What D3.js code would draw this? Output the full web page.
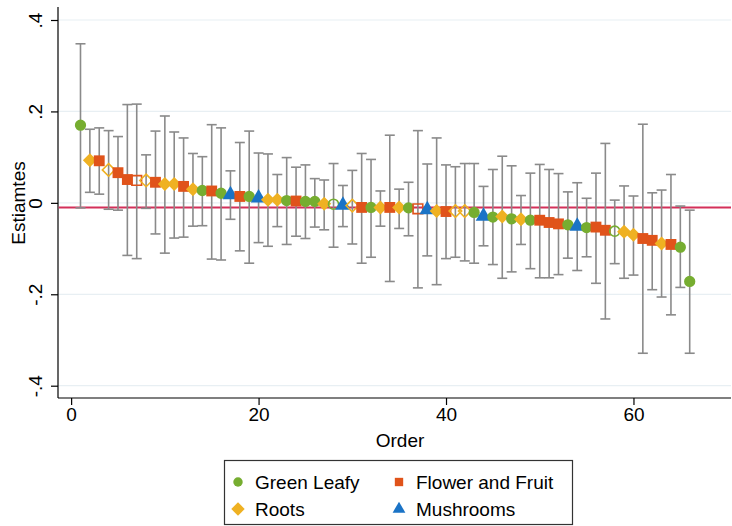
<!DOCTYPE html>
<html><head><meta charset="utf-8">
<script src="https://cdn.jsdelivr.net/npm/d3@7"></script>
<style>body{margin:0;background:#fff}svg{display:block;font-family:"Liberation Sans",Arial,Helvetica,sans-serif}</style>
</head><body><svg id="c" width="732" height="526"></svg>
<script>
// Order of each estimate (1..66)
const order = d3.range(1, 67);
// Category of each estimate: G = Green Leafy, F = Flower and Fruit, R = Roots, M = Mushrooms
const category = ["G","R","F","R","F","F","F","R","F","R","R","F","R","G","F","G","M","F","G","M",
  "R","R","G","F","G","G","R","G","M","R","F","G","R","F","R","G","F","M","R","F",
  "R","R","G","M","G","R","G","R","G","F","F","F","G","M","G","F","F","G","R","R",
  "F","F","R","F","G","G"];
// Hollow (open) marker flag
const hollow = [0,0,0,1,0,0,1,1,0,0,0,0,0,0,0,0,0,0,0,0,
  0,0,0,0,0,0,0,1,0,1,0,0,0,0,0,0,1,0,0,0,
  1,1,0,0,0,0,0,0,0,0,0,0,0,0,0,0,0,1,0,0,
  0,0,0,0,0,0];
const estimate = [0.170,0.093,0.092,0.072,0.066,0.051,0.049,0.049,0.045,0.041,0.041,0.036,0.030,0.027,0.026,0.021,0.020,0.014,0.014,0.013,
  0.007,0.007,0.005,0.004,0.003,0.003,-0.002,-0.003,-0.003,-0.006,-0.010,-0.010,-0.010,-0.010,-0.010,-0.011,-0.013,-0.013,-0.018,-0.019,
  -0.018,-0.018,-0.021,-0.027,-0.031,-0.030,-0.035,-0.036,-0.038,-0.038,-0.043,-0.046,-0.048,-0.049,-0.054,-0.053,-0.060,-0.062,-0.063,-0.070,
  -0.078,-0.082,-0.089,-0.091,-0.097,-0.172];
const upper = [0.348,0.161,0.164,0.158,0.145,0.215,0.216,0.105,0.157,0.190,0.155,0.142,0.108,0.101,0.171,0.164,0.070,0.132,0.157,0.109,
  0.107,0.062,0.099,0.078,0.083,0.053,0.050,0.086,0.038,0.071,0.108,0.095,0.026,0.148,0.030,0.045,0.158,0.085,0.142,0.083,
  0.079,0.086,0.086,0.036,0.073,0.102,0.081,0.016,0.065,0.084,0.073,0.064,0.024,0.044,0.010,0.065,0.130,0.006,0.037,0.015,
  0.172,0.022,0.028,0.062,-0.007,-0.016];
const lower = [-0.011,0.023,0.019,-0.014,-0.016,-0.115,-0.122,-0.012,-0.068,-0.110,-0.077,-0.075,-0.051,-0.050,-0.123,-0.125,-0.036,-0.105,-0.132,-0.087,
  -0.095,-0.052,-0.091,-0.073,-0.078,-0.053,-0.059,-0.097,-0.052,-0.090,-0.132,-0.119,-0.051,-0.172,-0.056,-0.072,-0.186,-0.116,-0.179,-0.122,
  -0.119,-0.127,-0.132,-0.094,-0.135,-0.165,-0.151,-0.091,-0.144,-0.164,-0.164,-0.157,-0.121,-0.148,-0.118,-0.176,-0.254,-0.133,-0.165,-0.158,
  -0.329,-0.190,-0.206,-0.245,-0.185,-0.329];
const refValue = -0.01;
const xTicks = [0, 20, 40, 60];
const yTicks = [0.4, 0.2, 0, -0.2, -0.4];
const yTickLabels = [".4", ".2", "0", "-.2", "-.4"];
const legendKeys = ["G","F","R","M"];
const legendNames = ["Green Leafy","Flower and Fruit","Roots","Mushrooms"];

const colors = {G:"#76ad30", F:"#e0531a", R:"#efb122", M:"#1a73c6"};
// square diamond symbol (equal diagonals)
const symbolDiamondSq = {draw(ctx, size){ const r = Math.sqrt(size/2); ctx.moveTo(0,-r); ctx.lineTo(r,0); ctx.lineTo(0,r); ctx.lineTo(-r,0); ctx.closePath(); }};
const shapes = {G:d3.symbolCircle, F:d3.symbolSquare, R:symbolDiamondSq, M:d3.symbolTriangle};
const sizes = {G:100, F:118, R:98, M:105};

const data = order.map((o,i)=>({o, c:category[i], h:hollow[i], e:estimate[i], u:upper[i], l:lower[i]}));

const svg = d3.select("#c");
const L=58, R=731, T=7, B=398;
const x = d3.scaleLinear().domain([-1.4, 70.3]).range([L, 730]);
const y = d3.scaleLinear().domain([0.4, -0.4]).range([20, 385.7]);

// gridlines
svg.append("g").selectAll("line").data(yTicks).join("line")
  .attr("x1", L).attr("x2", R).attr("y1", d=>y(d)).attr("y2", d=>y(d))
  .attr("stroke", "#e8eff3").attr("stroke-width", 1.2);

// axes
const yAxis = d3.axisLeft(y).tickValues(yTicks).tickSize(7).tickFormat((d,i)=>yTickLabels[i]);
const gy = svg.append("g").attr("transform", `translate(${L},0)`).call(yAxis);
gy.select(".domain").remove();
gy.append("line").attr("x1",0).attr("x2",0).attr("y1",T).attr("y2",B).attr("stroke","#000").attr("stroke-width",1.2);
gy.selectAll(".tick line").attr("stroke","#000").attr("stroke-width",1.2);
gy.selectAll(".tick text").attr("fill","#000").style("font-size","19px")
  .attr("x",0).attr("dy",null).attr("dominant-baseline","middle").attr("text-anchor","middle")
  .attr("transform","translate(-21,0) rotate(-90)");

const xAxis = d3.axisBottom(x).tickValues(xTicks).tickSize(7).tickFormat(d3.format("d"));
const gx = svg.append("g").attr("transform", `translate(0,${B})`).call(xAxis);
gx.select(".domain").remove();
gx.append("line").attr("x1",L).attr("x2",R).attr("y1",0).attr("y2",0).attr("stroke","#000").attr("stroke-width",1.2);
gx.selectAll(".tick line").attr("stroke","#000").attr("stroke-width",1.2);
gx.selectAll(".tick text").attr("fill","#000").style("font-size","19px").attr("y",10);

// titles
svg.append("text").attr("x", 400).attr("y", 447).attr("text-anchor","middle").style("font-size","19px").text("Order");
svg.append("text").attr("transform","translate(20,203) rotate(-90)").attr("text-anchor","middle")
  .attr("dominant-baseline","middle").style("font-size","19px").text("Estiamtes");

// reference line
svg.append("line").attr("x1",L+0.6).attr("x2",R).attr("y1",y(refValue)).attr("y2",y(refValue))
  .attr("stroke","#d3305a").attr("stroke-width",2);

// error bars
const eb = svg.append("g").attr("stroke","#8a8a8a").attr("stroke-width",1.6).attr("fill","none");
const capW = 5;
data.forEach(d=>{
  const cx = x(d.o);
  eb.append("line").attr("x1",cx).attr("x2",cx).attr("y1",y(d.u)).attr("y2",y(d.l));
  eb.append("line").attr("x1",cx-capW).attr("x2",cx+capW).attr("y1",y(d.u)).attr("y2",y(d.u));
  eb.append("line").attr("x1",cx-capW).attr("x2",cx+capW).attr("y1",y(d.l)).attr("y2",y(d.l));
});

// markers
svg.append("g").selectAll("path").data(data).join("path")
  .attr("d", d=>d3.symbol().type(shapes[d.c]).size(d.h ? sizes[d.c]*0.8 : sizes[d.c])())
  .attr("transform", d=>`translate(${x(d.o)},${y(d.e) + (d.c==="M"?1:0)})`)
  .attr("fill", d=>d.h ? "none" : colors[d.c])
  .attr("stroke", d=>d.h ? colors[d.c] : "none")
  .attr("stroke-width", 1.6);

// legend
const lg = svg.append("g");
lg.append("rect").attr("x",224.5).attr("y",460.5).attr("width",348).attr("height",64)
  .attr("fill","#fff").attr("stroke","#333").attr("stroke-width",1.2);
const lpos = [[238,482],[399,482],[238,509],[399,509]];
legendKeys.forEach((k,i)=>{
  const [lx,ly] = lpos[i];
  lg.append("path").attr("d", d3.symbol().type(shapes[k]).size(k==="R"?90:70)())
    .attr("transform",`translate(${lx},${ly})`).attr("fill",colors[k]);
  lg.append("text").attr("x",lx+17).attr("y",ly).attr("dominant-baseline","central")
    .style("font-size","19px").text(legendNames[i]);
});
</script></body></html>
